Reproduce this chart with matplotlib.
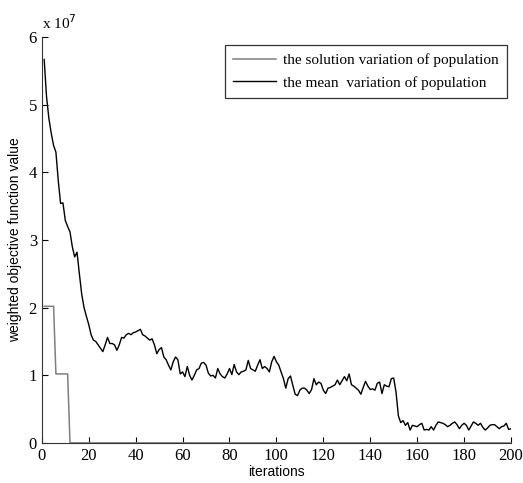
import matplotlib.pyplot as plt
import numpy as np

iterations = np.arange(1, 201)

# mean variation of population (x 1e7)
mean_var = [
    5.67, 5.12, 4.80, 4.58, 4.40, 4.30, 3.88, 3.54, 3.55, 3.29,
    3.20, 3.12, 2.90, 2.75, 2.82, 2.50, 2.20, 2.00, 1.87, 1.75,
    1.60, 1.52, 1.50, 1.45, 1.40, 1.35, 1.45, 1.56, 1.47, 1.47,
    1.45, 1.37, 1.45, 1.56, 1.55, 1.60, 1.62, 1.60, 1.63, 1.64,
    1.66, 1.68, 1.60, 1.58, 1.55, 1.52, 1.54, 1.45, 1.32, 1.38,
    1.41, 1.27, 1.23, 1.15, 1.08, 1.20, 1.27, 1.23, 1.02, 1.05,
    0.98, 1.13, 1.00, 0.93, 1.00, 1.08, 1.10, 1.18, 1.19, 1.15,
    1.03, 0.99, 1.00, 0.96, 1.10, 1.02, 0.98, 0.96, 1.02, 1.10,
    1.01, 1.16, 1.05, 1.01, 1.05, 1.06, 1.08, 1.22, 1.10, 1.08,
    1.06, 1.15, 1.23, 1.10, 1.13, 1.10, 1.05, 1.20, 1.28, 1.20,
    1.15, 1.05, 0.95, 0.81, 0.95, 0.99, 0.85, 0.72, 0.70, 0.78,
    0.81, 0.81, 0.78, 0.73, 0.79, 0.95, 0.86, 0.90, 0.88, 0.78,
    0.73, 0.81, 0.82, 0.84, 0.86, 0.93, 0.86, 0.92, 0.98, 0.92,
    1.02, 0.86, 0.84, 0.81, 0.78, 0.72, 0.82, 0.91, 0.84, 0.79,
    0.80, 0.78, 0.88, 0.90, 0.73, 0.86, 0.84, 0.83, 0.95, 0.96,
    0.75, 0.40, 0.30, 0.33, 0.26, 0.30, 0.19, 0.26, 0.25, 0.24,
    0.27, 0.29, 0.19, 0.20, 0.19, 0.24, 0.19, 0.26, 0.31, 0.30,
    0.29, 0.27, 0.24, 0.26, 0.29, 0.31, 0.27, 0.21, 0.26, 0.29,
    0.26, 0.19, 0.25, 0.31, 0.29, 0.26, 0.29, 0.23, 0.19, 0.22,
    0.26, 0.27, 0.27, 0.24, 0.21, 0.24, 0.25, 0.29, 0.20, 0.21,
]

# solution variation of population (x 1e7)
sol_var = [2.02] * 5 + [1.02] * 6 + [0.0] * 189

mean_var = np.array(mean_var) * 1e7
sol_var = np.array(sol_var) * 1e7

fig = plt.figure(figsize=(5.23, 4.83), dpi=100)
ax = fig.add_axes([0.080, 0.083, 0.897, 0.840])

ax.plot(iterations, sol_var, color='#7f7f7f', lw=1.1, ls='-', clip_on=False,
        label='the solution variation of population')
ax.plot(iterations, mean_var, color='black', lw=1.0,
        label='the mean  variation of population')

ax.set_xlim(0, 200)
ax.set_ylim(0, 6e7)
ax.set_xticks(np.arange(0, 201, 20))
ax.set_yticks(np.arange(0, 7e7, 1e7))
ax.set_yticklabels([str(i) for i in range(7)])

for s in ['top', 'right']:
    ax.spines[s].set_visible(False)
for s in ['left', 'bottom']:
    ax.spines[s].set_linewidth(0.8)
    ax.spines[s].set_color('#333333')

ax.tick_params(direction='in', length=4, width=0.8, labelsize=12)
for lab in ax.get_xticklabels() + ax.get_yticklabels():
    lab.set_fontfamily('Liberation Serif')

ax.text(0.0, 1.012, r'x 10$^7$', transform=ax.transAxes,
        fontfamily='Liberation Serif', fontsize=11, va='bottom', ha='left')

ax.set_xlabel('iterations', fontfamily='Liberation Sans', fontsize=10, labelpad=1)
ax.set_ylabel('weighted objective function value', fontfamily='Liberation Sans',
              fontsize=10, labelpad=5)

leg = ax.legend(loc='upper right', bbox_to_anchor=(0.991, 0.980),
                borderaxespad=0,
                prop={'family': 'Liberation Serif', 'size': 11},
                frameon=True, fancybox=False, edgecolor='black',
                handlelength=2.8, borderpad=0.55, labelspacing=0.55,
                handletextpad=0.45)
leg.get_frame().set_linewidth(0.9)

fig.savefig('out.png', dpi=100)
